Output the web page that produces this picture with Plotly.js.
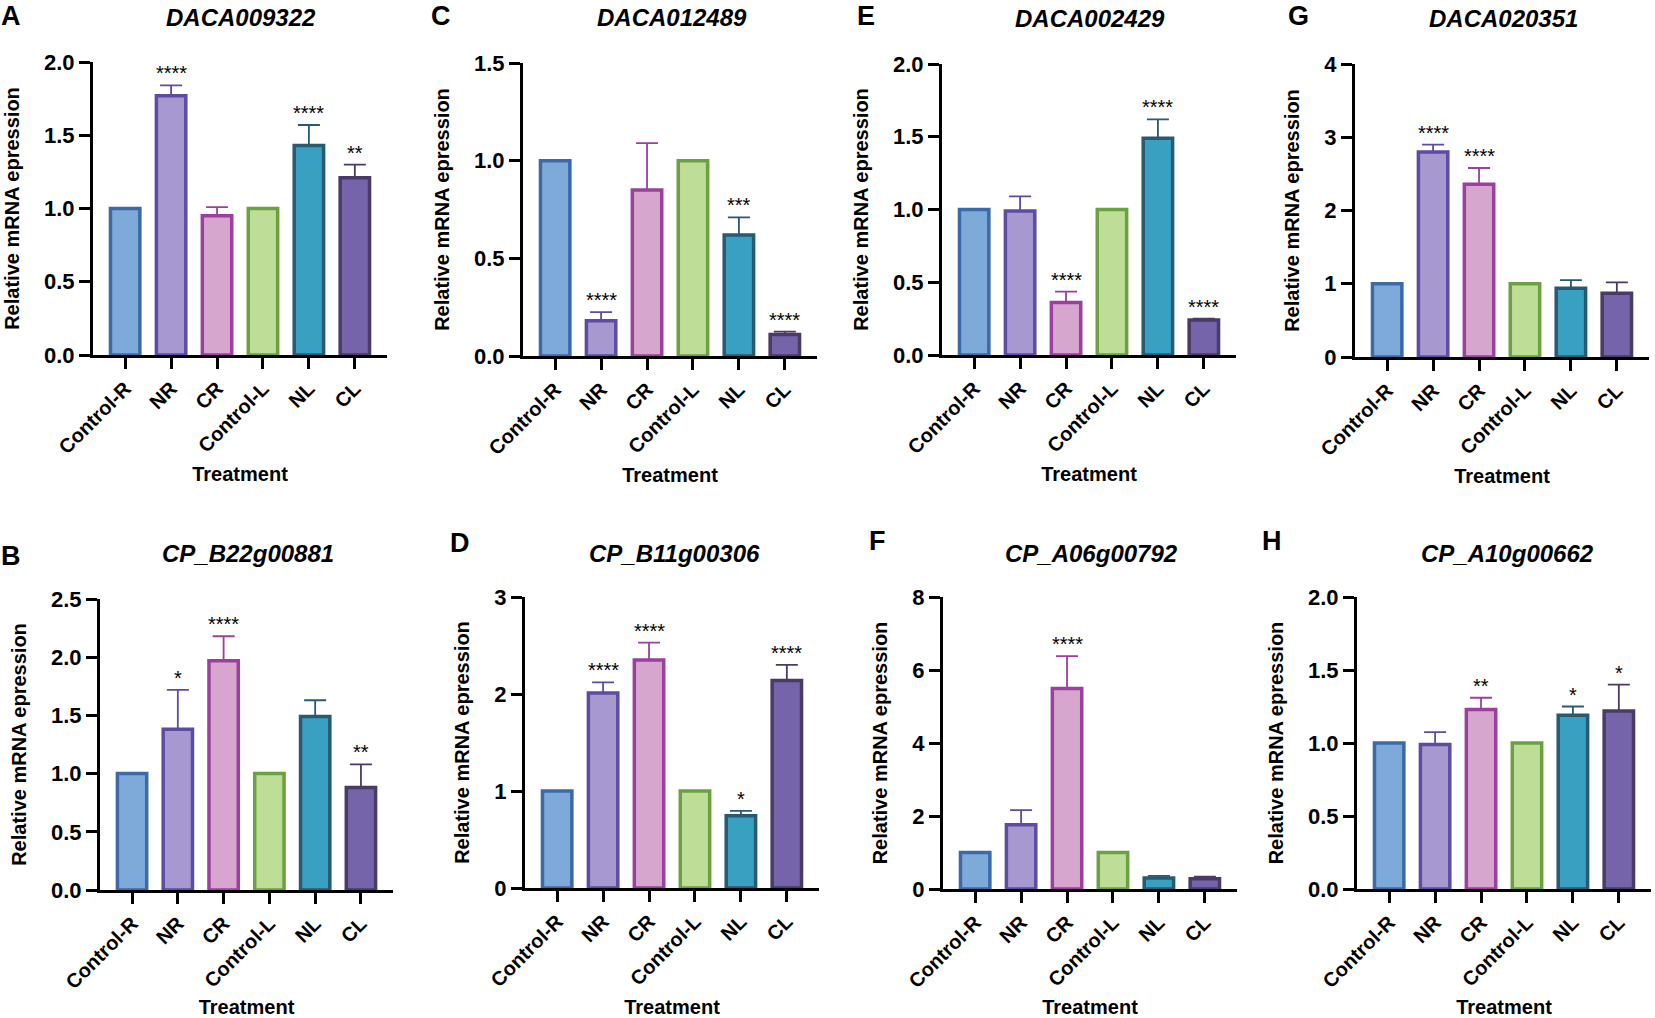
<!DOCTYPE html>
<html><head><meta charset="utf-8">
<script src="https://cdn.plot.ly/plotly-3.0.1.min.js"></script>
<style>html,body{margin:0;padding:0;background:#fff}#chart{width:1655px;height:1018px}</style>
</head><body><div id="chart"></div>
<script>
// ---------- data ----------
const categories = ['Control-R', 'NR', 'CR', 'Control-L', 'NL', 'CL'];
const genes = ['DACA009322', 'DACA012489', 'DACA002429', 'DACA020351',
               'CP_B22g00881', 'CP_B11g00306', 'CP_A06g00792', 'CP_A10g00662'];
const panelLetters = ['A', 'C', 'E', 'G', 'B', 'D', 'F', 'H'];

const valuesA = [1.00, 1.77, 0.95, 1.00, 1.43, 1.21];
const errorsA = [0, 0.07, 0.06, 0, 0.14, 0.09];
const sigA    = ['', '****', '', '', '****', '**'];

const valuesC = [1.00, 0.18, 0.85, 1.00, 0.62, 0.11];
const errorsC = [0, 0.045, 0.24, 0, 0.09, 0.015];
const sigC    = ['', '****', '', '', '***', '****'];

const valuesE = [1.00, 0.99, 0.36, 1.00, 1.49, 0.24];
const errorsE = [0, 0.10, 0.075, 0, 0.13, 0.01];
const sigE    = ['', '', '****', '', '****', '****'];

const valuesG = [1.00, 2.80, 2.36, 1.00, 0.94, 0.87];
const errorsG = [0, 0.10, 0.22, 0, 0.11, 0.15];
const sigG    = ['', '****', '****', '', '', ''];

const valuesB = [1.00, 1.38, 1.97, 1.00, 1.49, 0.88];
const errorsB = [0, 0.34, 0.21, 0, 0.14, 0.20];
const sigB    = ['', '*', '****', '', '', '**'];

const valuesD = [1.00, 2.01, 2.35, 1.00, 0.745, 2.14];
const errorsD = [0, 0.11, 0.18, 0, 0.05, 0.16];
const sigD    = ['', '****', '****', '', '*', '****'];

const valuesF = [1.00, 1.76, 5.49, 1.00, 0.30, 0.28];
const errorsF = [0, 0.40, 0.89, 0, 0.06, 0.06];
const sigF    = ['', '', '****', '', '', ''];

const valuesH = [1.00, 0.99, 1.23, 1.00, 1.19, 1.22];
const errorsH = [0, 0.085, 0.08, 0, 0.06, 0.18];
const sigH    = ['', '', '**', '', '*', '*'];

const yMaxes  = [2, 1.5, 2, 4, 2.5, 3, 8, 2];
const yDticks = [0.5, 0.5, 0.5, 1, 0.5, 1, 2, 0.5];

// ---------- styling / layout ----------
const W = 1655, H = 1018;
const FONT = 'Arial, "Liberation Sans", sans-serif';
const fillColors = ['#7eaad9', '#a799cf', '#d7a6cf', '#bedd97', '#3aa0c1', '#7564aa'];
const lineColors = ['#3c6aa6', '#5e4ba3', '#9c3f9e', '#6ba141', '#285a71', '#4a3b66'];

const panelData = [
  [valuesA, errorsA, sigA], [valuesC, errorsC, sigC], [valuesE, errorsE, sigE], [valuesG, errorsG, sigG],
  [valuesB, errorsB, sigB], [valuesD, errorsD, sigD], [valuesF, errorsF, sigF], [valuesH, errorsH, sigH]
];
// pixel boxes: [x left, x right, y top, y bottom]
const boxes = [
  [93, 387, 62, 355], [523, 817, 63, 356], [942, 1236, 64, 355], [1355, 1649, 64, 357],
  [100, 393, 599, 890], [525, 819, 597, 888], [943, 1237, 597, 889], [1357, 1651, 597, 889]
];
const titlePos = [[241, 17], [672, 17], [1090, 18], [1503, 18], [248, 553], [674, 553], [1091, 553], [1507, 553]];
const letterPos = [[11, 16], [441, 16], [866, 16], [1298, 16], [11, 556], [460, 543], [877, 541], [1272, 541]];

const traces = [];
const annotations = [];
const layout = {
  width: W, height: H,
  margin: {l: 0, r: 0, t: 0, b: 0},
  paper_bgcolor: '#fff', plot_bgcolor: 'rgba(0,0,0,0)',
  barmode: 'overlay', showlegend: false,
  font: {family: FONT, color: '#000'},
  annotations: annotations
};

panelData.forEach((pd, i) => {
  const [vals, errs, sigs] = pd;
  const s = i === 0 ? '' : String(i + 1);
  const b = boxes[i];
  categories.forEach((c, j) => {
    traces.push({
      type: 'bar', x: [c], y: [vals[j]], xaxis: 'x' + s, yaxis: 'y' + s,
      width: 0.64,
      marker: {color: fillColors[j], line: {color: lineColors[j], width: 3.5}},
      error_y: errs[j] > 0 ? {type: 'data', symmetric: false, array: [errs[j]], arrayminus: [0],
                              color: lineColors[j], thickness: 1.8, width: 11} : {visible: false},
      hoverinfo: 'x+y'
    });
    if (sigs[j]) {
      annotations.push({
        xref: 'x' + s, yref: 'y' + s, x: c, y: vals[j] + errs[j],
        text: sigs[j], showarrow: false, yanchor: 'bottom', yshift: -1,
        font: {family: FONT, size: 20, color: '#000'}
      });
    }
  });
  layout['xaxis' + s] = {
    domain: [b[0] / W, b[1] / W], anchor: 'y' + s, type: 'category',
    range: [-0.7, 5.7], showline: true, linecolor: '#000', linewidth: 3,
    ticks: 'outside', ticklen: 11, tickwidth: 3, tickcolor: '#000', tickangle: -45,
    tickfont: {family: FONT, size: 20, color: '#000', weight: 700},
    title: {text: 'Treatment', font: {family: FONT, size: 20, color: '#000', weight: 700}, standoff: 10},
    showgrid: false, zeroline: false, fixedrange: true
  };
  layout['yaxis' + s] = {
    domain: [1 - b[3] / H, 1 - b[2] / H], anchor: 'x' + s,
    range: [0, yMaxes[i]], tick0: 0, dtick: yDticks[i], tickformat: yDticks[i] < 1 ? '.1f' : 'd',
    showline: true, linecolor: '#000', linewidth: 3,
    ticks: 'outside', ticklen: 11, tickwidth: 3, tickcolor: '#000',
    tickfont: {family: FONT, size: 22, color: '#000', weight: 700},
    title: {text: 'Relative mRNA epression', font: {family: FONT, size: 20, color: '#000', weight: 700}, standoff: 20},
    showgrid: false, zeroline: false, fixedrange: true
  };
  annotations.push({
    xref: 'paper', yref: 'paper', x: titlePos[i][0] / W, y: 1 - titlePos[i][1] / H,
    xanchor: 'center', yanchor: 'middle', showarrow: false,
    text: '<b><i>' + genes[i] + '</i></b>',
    font: {family: FONT, size: 24, color: '#000'}
  });
  annotations.push({
    xref: 'paper', yref: 'paper', x: letterPos[i][0] / W, y: 1 - letterPos[i][1] / H,
    xanchor: 'center', yanchor: 'middle', showarrow: false,
    text: '<b>' + panelLetters[i] + '</b>',
    font: {family: FONT, size: 27, color: '#000'}
  });
});

Plotly.newPlot('chart', traces, layout, {displayModeBar: false, staticPlot: true});
</script>
</body></html>
